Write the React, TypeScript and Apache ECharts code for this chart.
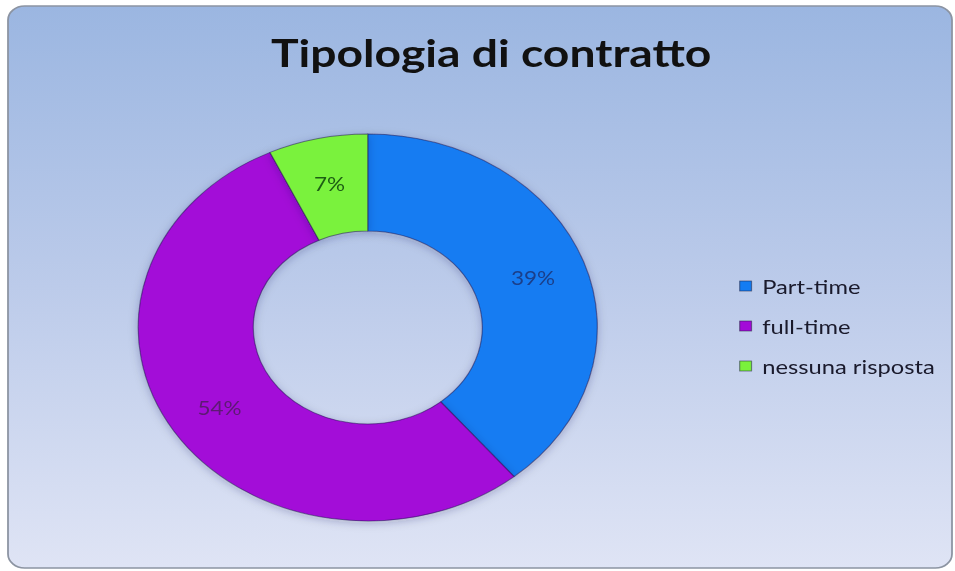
import React, { useEffect, useRef } from 'react';
import * as echarts from 'echarts';

const titleText = 'Tipologia di contratto';
const categories = ['Part-time', 'full-time', 'nessuna risposta'];
const values = [39, 54, 7];
const sliceColors = ['#137cf2', '#a30ad8', '#7af23c'];
const labelColors = ['#1b3f8a', '#5d1a73', '#1d5e14'];

const W = 955;
const H = 571;
const IW = 805;
const SX = W / IW;

export default function App() {
  const ref = useRef<HTMLDivElement>(null);
  useEffect(() => {
    const chart = echarts.init(ref.current!, null, { renderer: 'svg' });
    chart.setOption({
      animation: false,
      graphic: [
        {
          type: 'rect',
          z: -10,
          silent: true,
          shape: { x: 8 / SX, y: 6, width: (952 - 8) / SX, height: 562, r: 14 },
          style: {
            fill: new echarts.graphic.LinearGradient(0, 0, 0, 1, [
              { offset: 0, color: '#9bb6e1' },
              { offset: 0.5, color: '#bccbea' },
              { offset: 1, color: '#dfe4f5' },
            ]),
            stroke: '#8c94a2',
            lineWidth: 1.5,
          },
        },
      ],
      title: {
        text: titleText,
        left: 409,
        top: 27,
        textAlign: 'center',
        textStyle: { fontFamily: 'Lato', fontWeight: 'bold', fontSize: 39, color: '#111111' },
      },
      legend: {
        orient: 'vertical',
        left: 618,
        top: 271,
        itemWidth: 10,
        itemHeight: 10,
        itemGap: 20,
        icon: 'rect',
        data: categories,
        textStyle: { fontFamily: 'Lato', fontSize: 20, lineHeight: 20, color: '#1a1a2c', padding: [0, 0, 0, 4] },
        itemStyle: { borderColor: 'rgba(30,30,60,0.5)', borderWidth: 1 },
      },
      series: [
        {
          type: 'pie',
          center: [310, 327.5],
          radius: [96.5, 193.5],
          startAngle: 90,
          clockwise: true,
          avoidLabelOverlap: false,
          itemStyle: {
            borderColor: 'rgba(40,30,90,0.55)',
            borderWidth: 1,
            shadowBlur: 8,
            shadowColor: 'rgba(40,40,80,0.25)',
            shadowOffsetY: 2,
          },
          label: {
            show: true,
            position: 'inside',
            fontFamily: 'Lato',
            fontSize: 19,
            formatter: (p: any) => `${p.value}%`,
          },
          labelLine: { show: false },
          data: categories.map((name, i) => ({
            name,
            value: values[i],
            itemStyle: { color: sliceColors[i] },
            label: { color: labelColors[i] },
          })),
        },
      ],
    });
    return () => chart.dispose();
  }, []);
  return (
    <div style={{ position: 'fixed', left: 0, top: 0, width: W, height: H, overflow: 'hidden', background: '#ffffff' }}>
      <div
        ref={ref}
        style={{ width: IW, height: H, transform: `scaleX(${SX})`, transformOrigin: '0 0' }}
      />
    </div>
  );
}
